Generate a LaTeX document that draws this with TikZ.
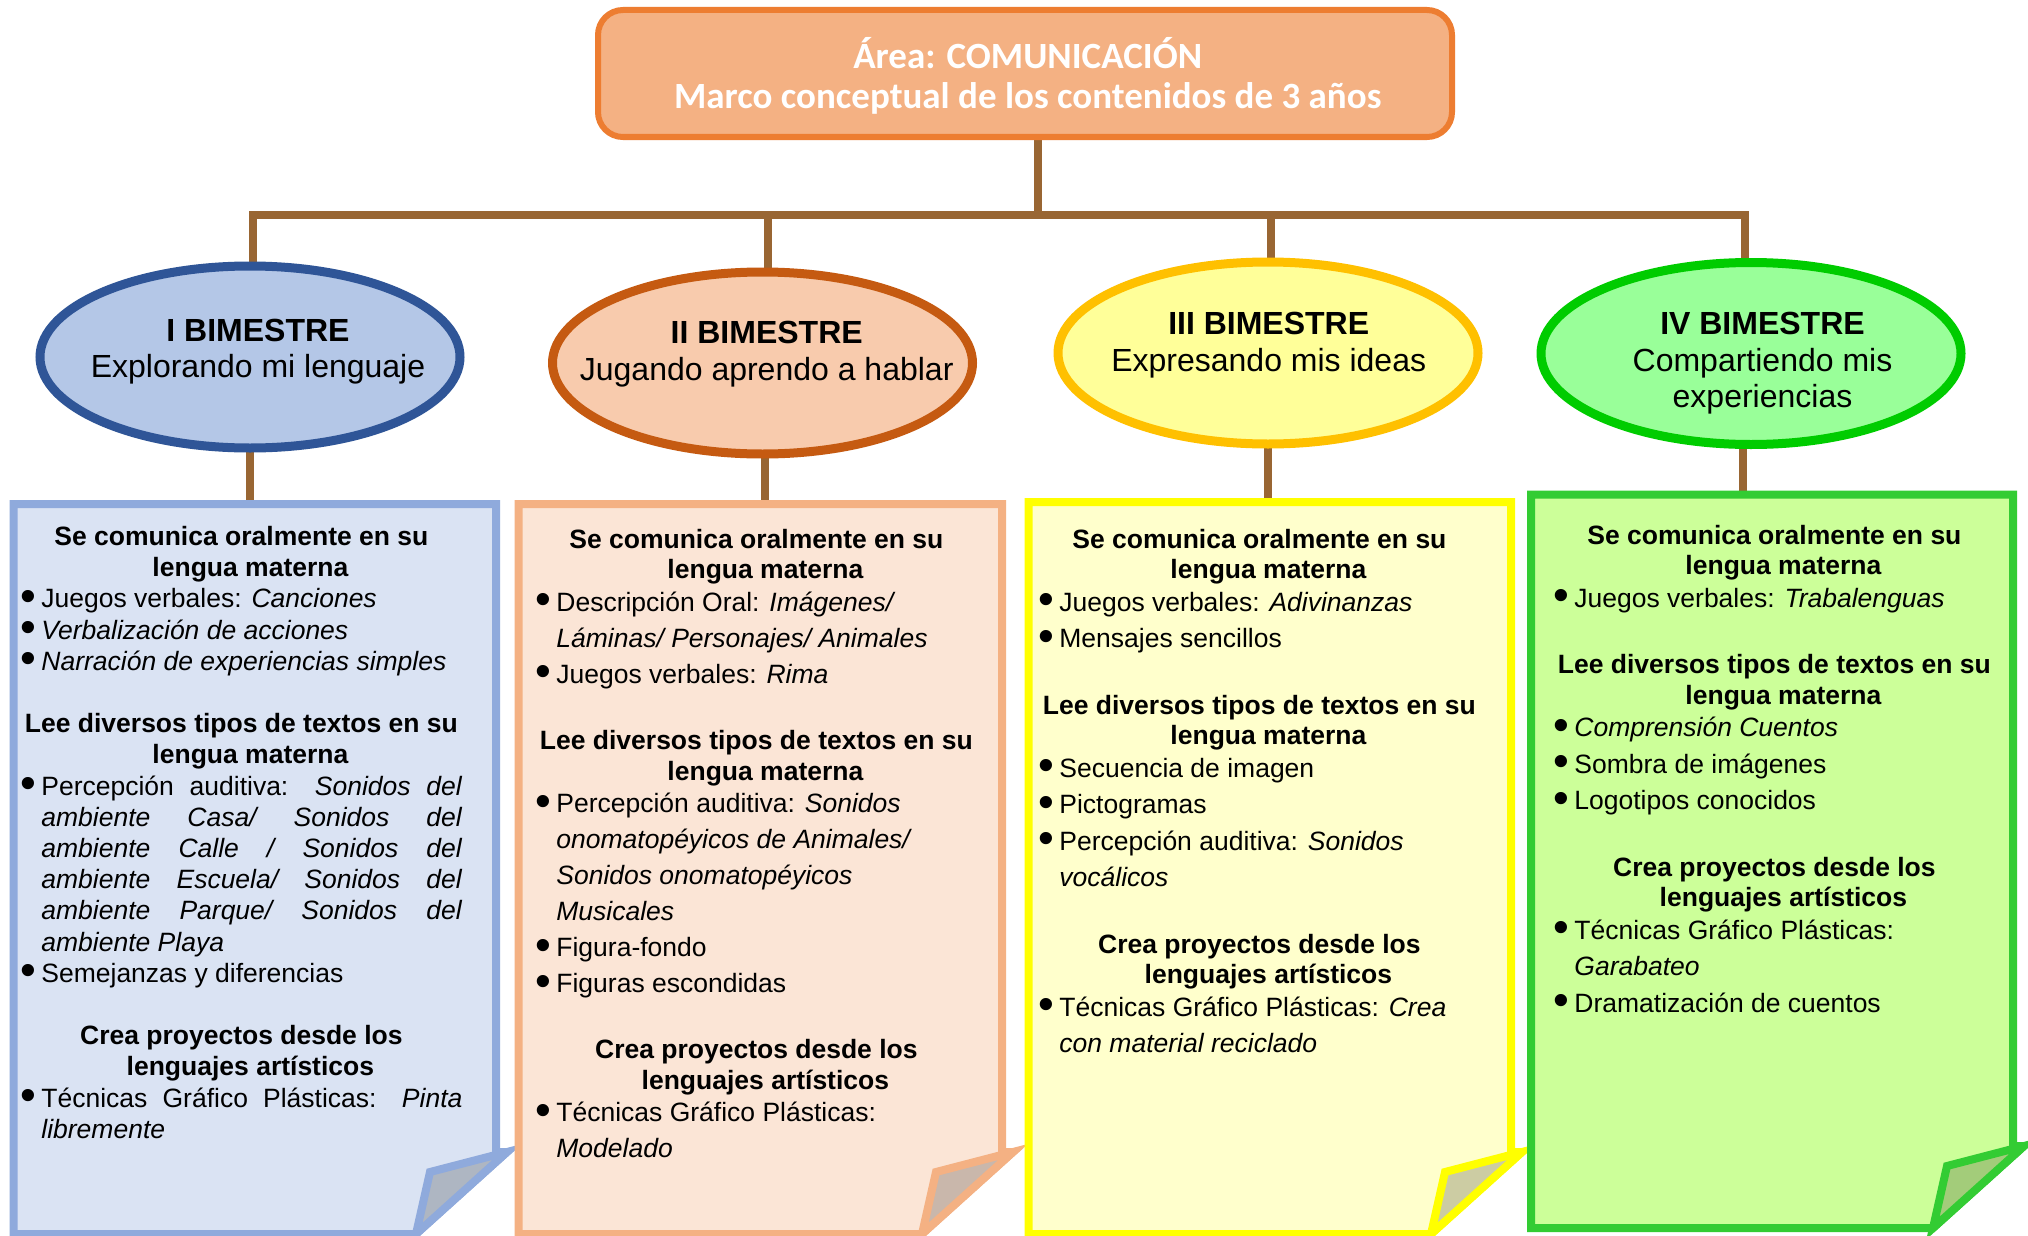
\documentclass[tikz,border=0pt]{standalone}
\usepackage{fontspec}
\usepackage{graphicx}
\setmainfont{Liberation Sans}
\newfontfamily\titlefont{Carlito}
\usetikzlibrary{shapes.geometric,calc}

% palette
\definecolor{linkbrown}{HTML}{996633}
\definecolor{ttlfill}{HTML}{F4B183}
\definecolor{ttldraw}{HTML}{ED7D31}
\definecolor{eAfill}{HTML}{B4C7E7}\definecolor{eAdraw}{HTML}{2F5597}
\definecolor{eBfill}{HTML}{F8CBAD}\definecolor{eBdraw}{HTML}{C55A11}
\definecolor{eCfill}{HTML}{FFFF99}\definecolor{eCdraw}{HTML}{FFC000}
\definecolor{eDfill}{HTML}{99FF99}\definecolor{eDdraw}{HTML}{00CC00}
\definecolor{pAfill}{HTML}{DAE3F3}\definecolor{pAdraw}{HTML}{8FAADC}\definecolor{pAfold}{HTML}{AEB6C2}
\definecolor{pBfill}{HTML}{FBE5D6}\definecolor{pBdraw}{HTML}{F4B183}\definecolor{pBfold}{HTML}{C9B7AB}
\definecolor{pCfill}{HTML}{FFFFCC}\definecolor{pCdraw}{HTML}{FFFF00}\definecolor{pCfold}{HTML}{CCCCA3}
\definecolor{pDfill}{HTML}{CCFF99}\definecolor{pDdraw}{HTML}{33CC33}\definecolor{pDfold}{HTML}{A3CC7A}

\pgfdeclarelayer{bg}
\pgfsetlayers{bg,main}

% one drawing unit
\newdimen\px \px=0.5pt
\newdimen\colw
% a text line whose baseline sits #1 units below the previous baseline
\newcommand\Ln[2]{\setbox0=\hbox to\colw{\vrule height #1\px depth 0pt width 0pt\relax #2}\dp0=0pt \ht0=#1\px \box0\relax}
\newcommand\bul{\raisebox{-0.13em}{\scalebox{1.7}{\textbullet}}}
% centred heading, first and second line
\newcommand\Ha[2]{\Ln{#1}{\hfil\bfseries #2\hfil}}
\newcommand\Hb[2]{\Ln{#1}{\hfil\hskip18\px\bfseries #2\hfil}}
% bullet item, ragged or justified
\newcommand\Bi[2]{\Ln{#1}{\hbox to21\px{\bul\hfil}#2\hfil}}
\newcommand\Bj[2]{\Ln{#1}{\hbox to21\px{\bul\hfil}#2}}
% continuation of an item, ragged or justified
\newcommand\Ci[2]{\Ln{#1}{\hskip21\px #2\hfil}}
\newcommand\Cj[2]{\Ln{#1}{\hskip21\px #2}}
% plain centred line
\newcommand\Cc[2]{\Ln{#1}{\hfil #2\hfil}}

% sheet of paper with a turned-up lower right corner
\newcommand\paper[4]{%
  \draw[paper,draw=#3,fill=#2] (#1.north west) -- (#1.north east)
    -- ($(#1.south east)+(0,-82)$) -- ++(11,0) -- ($(#1.south east)+(-80,0)$)
    -- (#1.south west) -- cycle;
  \draw[paper,draw=#3,fill=#4] ($(#1.south east)+(11,-82)$)
    -- ($(#1.south east)+(-66,-62)$) -- ($(#1.south east)+(-80,0)$) -- cycle;}

\begin{document}
\begin{tikzpicture}[x=0.5pt,y=-0.5pt,
  link/.style={draw=linkbrown,line width=4pt,line join=miter},
  oval/.style={ellipse,inner sep=0pt,outer sep=0pt,minimum width=210pt,minimum height=91pt,line width=4.5pt},
  paper/.style={line width=4pt,line join=miter},
  frame/.style={inner sep=0pt,outer sep=0pt},
  boxtext/.style={inner sep=0pt,anchor=north west,font=\fontsize{13.25}{15}\selectfont},
  ovaltext/.style={inner sep=0pt,anchor=north,font=\fontsize{16}{18}\selectfont}]
\useasboundingbox (0,0) rectangle (2028,1236);

% title
\node[draw=ttldraw,fill=ttlfill,line width=3pt,rounded corners=12.5pt,
      minimum width=427pt,minimum height=63.5pt,inner sep=0pt] (ttl) at (1025,73.5) {};
\node[inner sep=0pt,anchor=north,text=white,font=\titlefont\bfseries\fontsize{18.5}{22}\selectfont]
  (ttltext) at (1027.7,28)
  {\colw=854\px\vbox{\offinterlineskip
    \Cc{40}{Área: COMUNICACIÓN}
    \Cc{40}{Marco conceptual de los contenidos de 3 años}}};

% the four terms
\node[oval,draw=eAdraw,fill=eAfill] (e1) at (250,357) {};
\node[oval,draw=eBdraw,fill=eBfill] (e2) at (762.5,363) {};
\node[oval,draw=eCdraw,fill=eCfill] (e3) at (1268,353) {};
\node[oval,draw=eDdraw,fill=eDfill] (e4) at (1751,353.5) {};

\node[ovaltext] (et1) at (258,310) {\colw=420\px\vbox{\offinterlineskip
  \Cc{31}{\bfseries I BIMESTRE}\Cc{36.5}{Explorando mi lenguaje}}};
\node[ovaltext] (et2) at (766.7,312.3) {\colw=420\px\vbox{\offinterlineskip
  \Cc{31}{\bfseries II BIMESTRE}\Cc{36.5}{Jugando aprendo a hablar}}};
\node[ovaltext] (et3) at (1268.7,303.3) {\colw=420\px\vbox{\offinterlineskip
  \Cc{31}{\bfseries III BIMESTRE}\Cc{36.5}{Expresando mis ideas}}};
\node[ovaltext] (et4) at (1762.5,303.3) {\colw=420\px\vbox{\offinterlineskip
  \Cc{31}{\bfseries IV BIMESTRE}\Cc{36.5}{Compartiendo mis}\Cc{36.5}{experiencias}}};

% content sheets
\node[frame,minimum width=241.25pt,minimum height=365pt] (b1) at (254.75,869) {};
\node[frame,minimum width=241.75pt,minimum height=365pt] (b2) at (760.25,869) {};
\node[frame,minimum width=241.25pt,minimum height=366pt] (b3) at (1269.75,868) {};
\node[frame,minimum width=241pt,minimum height=366.75pt] (b4) at (1772,861.25) {};
\paper{b1}{pAfill}{pAdraw}{pAfold}
\paper{b2}{pBfill}{pBdraw}{pBfold}
\paper{b3}{pCfill}{pCdraw}{pCfold}
\paper{b4}{pDfill}{pDdraw}{pDfold}

\node[boxtext] (bt1) at (20,513.8) {\colw=442\px\vbox{\offinterlineskip
  \Ha{31.2}{Se comunica oralmente en su}
  \Hb{31.2}{lengua materna}
  \Bi{31.2}{Juegos verbales: \textit{Canciones}}
  \Bi{31.2}{\textit{Verbalización de acciones}}
  \Bi{31.2}{\textit{Narración de experiencias simples}}
  \Ha{62.4}{Lee diversos tipos de textos en su}
  \Hb{31.2}{lengua materna}
  \Bj{31.2}{Percepción auditiva: \textit{Sonidos del}}
  \Cj{31.2}{\textit{ambiente Casa/ Sonidos del}}
  \Cj{31.2}{\textit{ambiente Calle / Sonidos del}}
  \Cj{31.2}{\textit{ambiente Escuela/ Sonidos del}}
  \Cj{31.2}{\textit{ambiente Parque/ Sonidos del}}
  \Ci{31.2}{\textit{ambiente Playa}}
  \Bi{31.2}{Semejanzas y diferencias}
  \Ha{62.4}{Crea proyectos desde los}
  \Hb{31.2}{lenguajes artísticos}
  \Bj{31.2}{Técnicas Gráfico Plásticas: \textit{Pinta}}
  \Ci{31.2}{\textit{libremente}}}};

\node[boxtext] (bt2) at (535,517) {\colw=442\px\vbox{\offinterlineskip
  \Ha{31}{Se comunica oralmente en su}
  \Hb{30.5}{lengua materna}
  \Bi{32.5}{Descripción Oral: \textit{Imágenes/}}
  \Ci{36}{\textit{Láminas/ Personajes/ Animales}}
  \Bi{36}{Juegos verbales: \textit{Rima}}
  \Ha{66.5}{Lee diversos tipos de textos en su}
  \Hb{30.5}{lengua materna}
  \Bi{32.5}{Percepción auditiva: \textit{Sonidos}}
  \Ci{36}{\textit{onomatopéyicos de Animales/}}
  \Ci{36}{\textit{Sonidos onomatopéyicos}}
  \Ci{36}{\textit{Musicales}}
  \Bi{36}{Figura-fondo}
  \Bi{36}{Figuras escondidas}
  \Ha{66}{Crea proyectos desde los}
  \Hb{30.5}{lenguajes artísticos}
  \Bi{32.5}{Técnicas Gráfico Plásticas:}
  \Ci{36}{\textit{Modelado}}}};

\node[boxtext] (bt3) at (1038,517) {\colw=442\px\vbox{\offinterlineskip
  \Ha{31}{Se comunica oralmente en su}
  \Hb{30.5}{lengua materna}
  \Bi{32.5}{Juegos verbales: \textit{Adivinanzas}}
  \Bi{36.5}{Mensajes sencillos}
  \Ha{66.5}{Lee diversos tipos de textos en su}
  \Hb{30.5}{lengua materna}
  \Bi{32.5}{Secuencia de imagen}
  \Bi{36.5}{Pictogramas}
  \Bi{36.5}{Percepción auditiva: \textit{Sonidos}}
  \Ci{36.5}{\textit{vocálicos}}
  \Ha{66.5}{Crea proyectos desde los}
  \Hb{30.5}{lenguajes artísticos}
  \Bi{32.5}{Técnicas Gráfico Plásticas: \textit{Crea}}
  \Ci{36.5}{\textit{con material reciclado}}}};

\node[boxtext] (bt4) at (1553,513) {\colw=442\px\vbox{\offinterlineskip
  \Ha{31}{Se comunica oralmente en su}
  \Hb{30.5}{lengua materna}
  \Bi{32.5}{Juegos verbales: \textit{Trabalenguas}}
  \Ha{66.5}{Lee diversos tipos de textos en su}
  \Hb{30.5}{lengua materna}
  \Bi{32.5}{\textit{Comprensión Cuentos}}
  \Bi{36.5}{Sombra de imágenes}
  \Bi{36.5}{Logotipos conocidos}
  \Ha{66.5}{Crea proyectos desde los}
  \Hb{30.5}{lenguajes artísticos}
  \Bi{32.5}{Técnicas Gráfico Plásticas:}
  \Ci{36.5}{\textit{Garabateo}}
  \Bi{36.5}{Dramatización de cuentos}}};

% connectors, behind everything
\begin{pgfonlayer}{bg}
  \fill[white] (0,0) rectangle (2028,1236);
  \coordinate (bar) at (1038,215);
  \draw[link] ([xshift=6.5pt]ttl.south) -- ([xshift=6.5pt]ttl.south |- bar);
  \draw[link] ([xshift=1.5pt]e1.center) |- (bar) -| ([xshift=-3pt]e4.center);
  \draw[link] ([xshift=2.75pt]e2.center) -- ([xshift=2.75pt]e2.center |- bar);
  \draw[link] ([xshift=1.5pt]e3.center) -- ([xshift=1.5pt]e3.center |- bar);
  \draw[link] (e1.center) -- (e1.center |- b1.north);
  \draw[link] ([xshift=1.25pt]e2.center) -- ([xshift=1.25pt]e2.center |- b2.north);
  \draw[link] (e3.center) -- (e3.center |- b3.north);
  \draw[link] ([xshift=-4pt]e4.center) -- ([xshift=-4pt]e4.center |- b4.north);
\end{pgfonlayer}
\end{tikzpicture}
\end{document}
